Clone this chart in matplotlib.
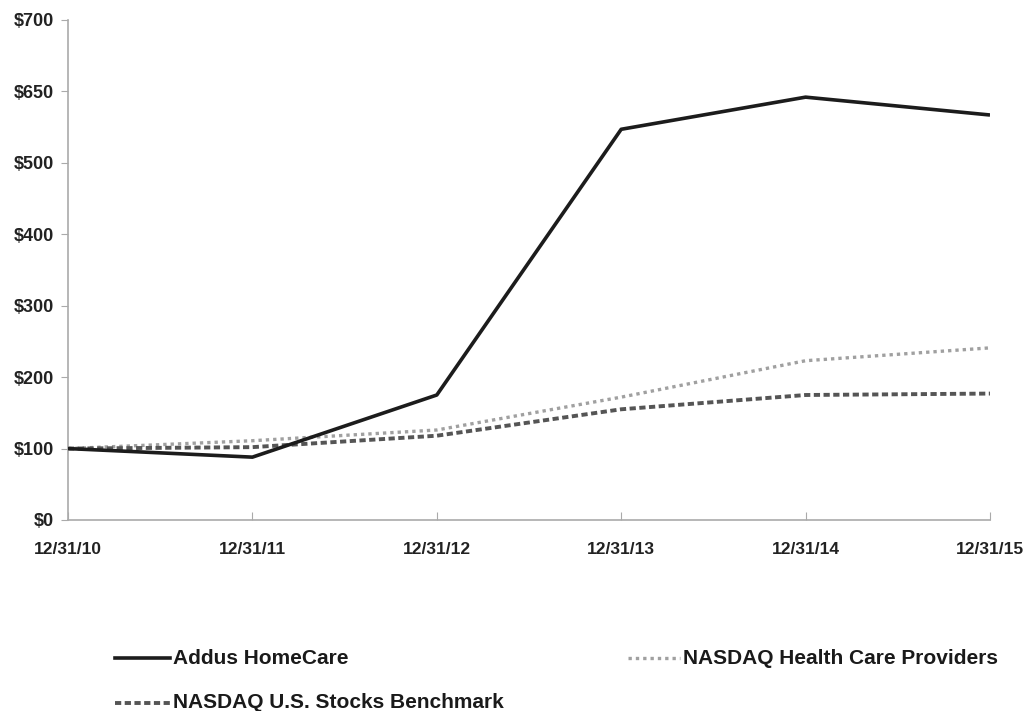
import matplotlib
matplotlib.use("Agg")
import matplotlib.pyplot as plt
from matplotlib.lines import Line2D

dates = ["12/31/10", "12/31/11", "12/31/12", "12/31/13", "12/31/14", "12/31/15"]
addus = [100, 88, 175, 547, 592, 567]
health = [100, 111, 126, 172, 223, 241]
bench = [100, 102, 118, 155, 175, 177]
yticks = [0, 100, 200, 300, 400, 500, 600, 700]
ytick_labels = ["$0", "$100", "$200", "$300", "$400", "$500", "$650", "$700"]

plt.rcParams['font.family'] = ['Liberation Sans', 'DejaVu Sans']
plt.rcParams['font.weight'] = 'bold'

fig = plt.figure(figsize=(10.26, 7.11), dpi=100)
ax = fig.add_axes([68/1026, 1-520/711, (990-68)/1026, 500/711])

x = list(range(len(dates)))
ax.plot(x, addus, color='#1c1c1c', lw=2.6, solid_capstyle='butt', zorder=3)
ax.plot(x, health, color='#a0a0a0', lw=2.4, linestyle=(0, (1, 1.2)), zorder=2)
ax.plot(x, bench, color='#555555', lw=2.8, linestyle=(0, (1.6, 0.9)), zorder=2)

ax.set_xlim(0, len(dates)-1)
ax.set_ylim(0, 700)
ax.set_yticks(yticks)
ax.set_yticklabels(ytick_labels, fontsize=13, fontweight='bold', color='#222222')
ax.set_xticks(x)
ax.set_xticklabels(dates, fontsize=12.5, fontweight='bold', color='#222222')
for s in ['top', 'right']:
    ax.spines[s].set_visible(False)
for s in ['left', 'bottom']:
    ax.spines[s].set_color('#aaaaaa')
    ax.spines[s].set_linewidth(1.2)
ax.tick_params(axis='y', direction='out', length=5, color='#aaaaaa', pad=5)
ax.tick_params(axis='x', direction='in', length=6, color='#aaaaaa', pad=16)

# legend (custom placement)
def leg(x0, x1, y, label, **kw):
    fig.add_artist(Line2D([x0/1026, x1/1026], [1-y/711, 1-y/711], transform=fig.transFigure, **kw))
    fig.text((x1+3)/1026, 1-y/711, label, fontsize=15, fontweight='bold',
             va='center', ha='left', color='#1a1a1a')

leg(115, 170, 658, "Addus HomeCare", color='#1c1c1c', lw=2.6)
leg(628, 680, 658, "NASDAQ Health Care Providers", color='#a0a0a0', lw=2.4, linestyle=(0, (1, 1.2)))
leg(115, 170, 703, "NASDAQ U.S. Stocks Benchmark", color='#555555', lw=2.8, linestyle=(0, (1.6, 0.9)))

fig.savefig("out.png", dpi=100)
